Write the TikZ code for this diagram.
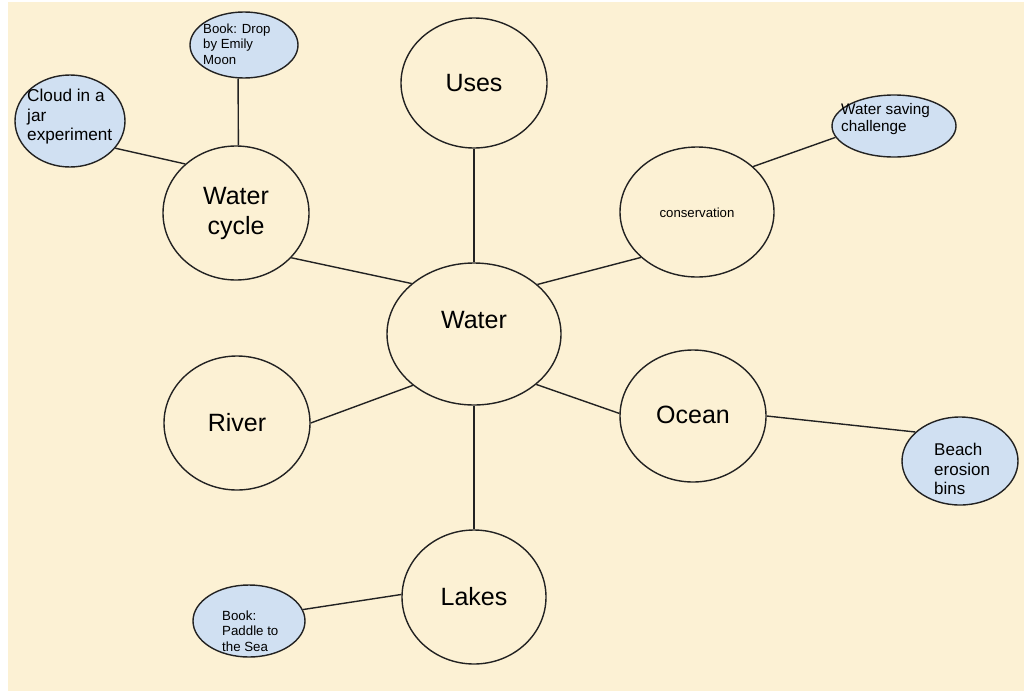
\documentclass[tikz,border=0pt]{standalone}
\usepackage{fontspec}
\setmainfont{Liberation Sans}
\usetikzlibrary{shapes.geometric}
\definecolor{cream}{HTML}{FCF1D4}
\definecolor{paleblue}{HTML}{D0E0F2}
\definecolor{ink}{HTML}{222222}
\tikzset{
  big/.style={ellipse, draw=ink, line width=1.4pt, fill=cream, inner sep=0pt},
  small/.style={ellipse, draw=ink, line width=1.4pt, fill=paleblue, inner sep=0pt},
  bigtext/.style={font=\fontsize{25}{30}\selectfont, align=center, inner sep=0pt, text=black},
  link/.style={draw=ink, line width=1.4pt},
}
\begin{document}
\begin{tikzpicture}[x=1pt,y=-1pt]
\useasboundingbox (0,0) rectangle (1024,696);
\fill[white] (0,0) rectangle (1024,696);
\fill[cream] (8,2) rectangle (1024,691);

% big ellipses
\node[big, minimum width=146pt, minimum height=130pt] (uses) at (474,83) {};
\node[big, minimum width=146pt, minimum height=134pt] (wc) at (236,213) {};
\node[big, minimum width=174pt, minimum height=142pt] (water) at (474,334) {};
\node[big, minimum width=154pt, minimum height=130pt] (cons) at (697,212) {};
\node[big, minimum width=146pt, minimum height=134pt] (river) at (237,423) {};
\node[big, minimum width=146pt, minimum height=132pt] (ocean) at (693,416) {};
\node[big, minimum width=144pt, minimum height=134pt] (lakes) at (474,597) {};

% small ellipses
\node[small, minimum width=108pt, minimum height=66pt] (drop) at (244,45) {};
\node[small, minimum width=110pt, minimum height=92pt] (cloud) at (70,121) {};
\node[small, minimum width=124pt, minimum height=62pt] (saving) at (894,126) {};
\node[small, minimum width=116pt, minimum height=88pt] (beach) at (960,461) {};
\node[small, minimum width=112pt, minimum height=72pt] (paddle) at (249,621) {};

% texts
\node[bigtext] (tuses) at (474,83) {Uses};
\node[bigtext] (twc) at (236,213) {Water\\cycle};
\node[bigtext] (twater) at (474,320) {Water};
\node[font=\fontsize{13.2}{15}\selectfont, inner sep=0pt] (tcons) at (697,213) {conservation};
\node[bigtext] (triver) at (237,423) {River};
\node[bigtext] (tocean) at (693,415) {Ocean};
\node[bigtext] (tlakes) at (474,597) {Lakes};

\node[anchor=west, align=left, inner sep=0pt, font=\fontsize{13.2}{15.5}\selectfont] (tdrop) at (203,44) {Book: Drop\\by Emily\\Moon};
\node[anchor=west, align=left, inner sep=0pt, font=\fontsize{17.2}{19.5}\selectfont] (tcloud) at (27,117) {Cloud in a\\jar\\experiment};
\node[anchor=west, align=left, inner sep=0pt, font=\fontsize{15.3}{17}\selectfont] (tsaving) at (841,119.5) {Water saving\\challenge};
\node[anchor=west, align=left, inner sep=0pt, font=\fontsize{17}{19.5}\selectfont] (tbeach) at (934,469) {Beach\\erosion\\bins};
\node[anchor=west, align=left, inner sep=0pt, font=\fontsize{13.3}{15.5}\selectfont] (tpaddle) at (222,631) {Book:\\Paddle to\\the Sea};

% connectors
\draw[link] (uses.-90) -- (water.90);
\draw[link] (water.-90) -- (lakes.90);
\draw[link] (wc.-39.8) -- (water.141);
\draw[link] (cons.219) -- (water.38.9);
\draw[link] (water.-140.6) -- (river.0);
\draw[link] (water.-39.4) -- (ocean.178.4);
\draw[link] (ocean.0.8) -- (beach.147.8);
\draw[link] (lakes.178) -- (paddle.12.8);
\draw[link] (wc.88) -- (drop.-100);
\draw[link] (wc.136.7) -- (cloud.-31.9);
\draw[link] (cons.39.9) -- (saving.-169);
\end{tikzpicture}
\end{document}
